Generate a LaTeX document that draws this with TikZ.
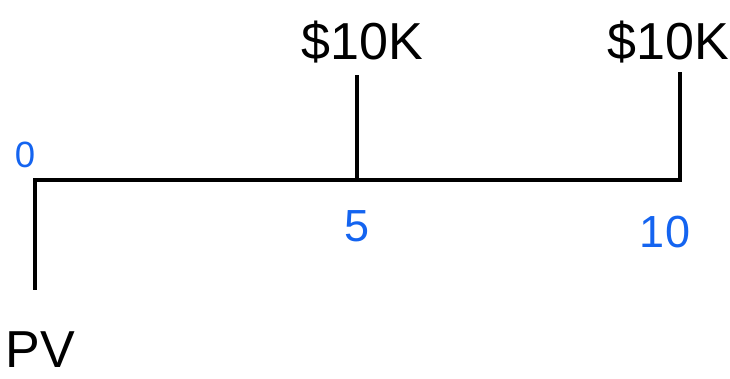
\documentclass[tikz,border=0pt]{standalone}
\usepackage{fontspec}
\setmainfont{Liberation Sans}
\definecolor{penblue}{RGB}{20,100,240}
\begin{document}
\begin{tikzpicture}[
                x=0.025cm, y=-0.025cm,
                line width=3pt,
                cash/.style={font=\fontsize{37}{40}\selectfont},
                year/.style={text=penblue, font=\fontsize{32}{34}\selectfont}
            ]
            \useasboundingbox (0,0) rectangle (730,379);

            % points on the time line
            \coordinate (t0) at (35,180);
            \coordinate (t5) at (357,180);
            \coordinate (t10) at (680,180);
            \coordinate (pvend) at (35,290);
            \coordinate (c5) at (357,75);
            \coordinate (c10) at (680,72);

            \draw (pvend) -- (t0) -- (t10) -- (c10);
            \draw (t5) -- (c5);

            % labels
            \node[year, font=\fontsize{26}{28}\selectfont] (y0) at (25,155) {0};
            \node[year] (y5) at (357,226) {5};
            \node[year] (y10) at (665,232) {10};
            \node[cash] (k5) at (362,42) {\$10K};
            \node[cash] (k10) at (668,42) {\$10K};
            \node[cash] (pv) at (40,350) {PV};

        \end{tikzpicture}
\end{document}
